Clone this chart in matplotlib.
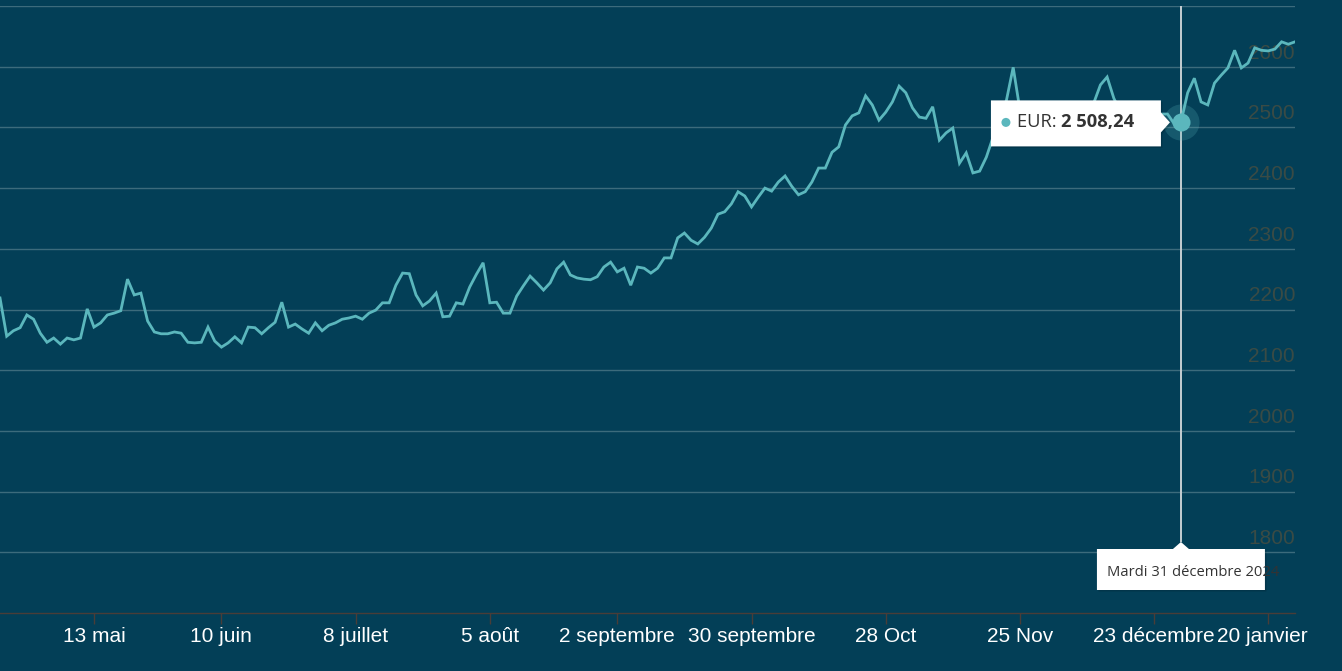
import matplotlib
matplotlib.use("Agg")
import matplotlib.pyplot as plt
from matplotlib.patches import Polygon, Ellipse
import matplotlib.transforms as mtransforms
import numpy as np
import pandas as pd

# ---------------- data ----------------
last_date = "2025-01-24"
holidays = ["2024-05-06", "2024-05-27", "2024-08-26",
            "2024-12-25", "2024-12-26", "2025-01-01"]

eur_price = [
    2219, 2156, 2165, 2170, 2191, 2184, 2161, 2146, 2153, 2143,
    2153, 2150, 2153, 2201, 2171, 2178, 2191, 2194, 2198, 2250,
    2224, 2227, 2181, 2163, 2160, 2160, 2163, 2161, 2146, 2145,
    2146, 2171, 2148, 2138, 2145, 2155, 2145, 2171, 2170, 2160,
    2170, 2179, 2212, 2171, 2176, 2168, 2161, 2178, 2165, 2174,
    2178, 2184, 2186, 2189, 2184, 2194, 2199, 2211, 2211, 2240,
    2260, 2259, 2224, 2206, 2214, 2227, 2188, 2189,
    2211, 2209, 2237, 2258, 2277, 2211, 2212, 2194, 2194, 2222,
    2239, 2255, 2244, 2232, 2244, 2267, 2278, 2257, 2252, 2250,
    2249, 2254, 2270, 2278, 2262, 2268, 2240, 2270, 2268, 2260,
    2268, 2285, 2285, 2318, 2326, 2314, 2308, 2319, 2334, 2357,
    2361, 2374, 2394, 2387, 2369, 2385, 2400, 2395, 2410, 2420,
    2403, 2389, 2394, 2410, 2433, 2433, 2459, 2468, 2504, 2519,
    2524, 2552, 2537, 2512, 2525, 2542, 2568,
    2557, 2532, 2517, 2515, 2534, 2479, 2491, 2499, 2441, 2458,
    2425, 2428, 2451, 2484, 2515, 2545, 2599, 2529,
    2512, 2495, 2505, 2520, 2498, 2510, 2525, 2515, 2530, 2522, 2540,
    2570, 2583, 2548,
    2525, 2505, 2515, 2500, 2520, 2510, 2522,
    2522, 2506, 2508.24, 2557, 2581, 2542, 2537, 2573, 2586, 2598,
    2627, 2598, 2606, 2631, 2627, 2626, 2629, 2641, 2637, 2641,
]

tick_dates = ["2024-05-13", "2024-06-10", "2024-07-08", "2024-08-05",
              "2024-09-02", "2024-09-30", "2024-10-28", "2024-11-25",
              "2024-12-23", "2025-01-20"]
tick_labels = ["13 mai", "10 juin", "8 juillet", "5 août", "2 septembre",
               "30 septembre", "28 Oct", "25 Nov", "23 décembre", "20 janvier"]

y_ticks = [1800, 1900, 2000, 2100, 2200, 2300, 2400, 2500, 2600, 2700]
y_min, y_max = 1700, 2700

hover_date = "2024-12-31"
hover_text_date = "Mardi 31 décembre 2024"
hover_series = "EUR"
hover_value_text = "2 508,24"

# ---------------- derived ----------------
bday = pd.offsets.CustomBusinessDay(holidays=holidays)
dates = pd.date_range(end=last_date, periods=len(eur_price), freq=bday)
idx = {d.strftime("%Y-%m-%d"): i for i, d in enumerate(dates)}
x = np.arange(len(eur_price))
tick_pos = [idx[d] for d in tick_dates]
hover_i = idx[hover_date]
hover_v = eur_price[hover_i]

# ---------------- style ----------------
BG = "#033f57"
GRID = "#3c6b7c"
LINE = "#5bb7bd"
AXIS = "#4a3d38"
YLAB = "#3a4b45"

W, H = 1342, 671
fig = plt.figure(figsize=(W / 100, H / 100), dpi=100, facecolor=BG)
ax = fig.add_axes([0, 1 - 613 / H, 1295 / W, (613 - 6) / H])
ax.set_facecolor(BG)
ax.set_xlim(0, len(eur_price) - 1)
ax.set_ylim(y_min, y_max)

for s in ["left", "right", "top"]:
    ax.spines[s].set_visible(False)
ax.spines["bottom"].set_color(AXIS)
ax.spines["bottom"].set_linewidth(1.0)

# grid lines
for yv in y_ticks:
    ax.axhline(yv, color=GRID, lw=1.0, zorder=1)

# y labels (drawn under the line)
ax.set_yticks([])
for yv in y_ticks[:-1]:
    ax.annotate(str(yv), xy=(1, yv), xycoords=("axes fraction", "data"),
                xytext=(0, 3), textcoords="offset points",
                ha="right", va="bottom", fontsize=15, color=YLAB,
                family="Liberation Sans", zorder=1.5, annotation_clip=False)

# x ticks
ax.set_xticks(tick_pos)
ax.set_xticklabels(tick_labels, fontsize=15, color="white", family="Liberation Sans")
ax.tick_params(axis="x", length=8, width=1, color=AXIS, pad=2)
# last label nudged left as in the source rendering
last_lab = ax.get_xticklabels()[-1]
last_lab.set_transform(last_lab.get_transform() +
                       mtransforms.ScaledTranslation(-6 / 100, 0, fig.dpi_scale_trans))

# crosshair
cross_bottom = y_min + (y_max - y_min) * (613 - 542) / (613 - 6)
ax.vlines(hover_i, cross_bottom, y_max, color="#c5ced2", lw=1.4, zorder=2)

# series line
ax.plot(x, eur_price, color=LINE, lw=2.0, zorder=3, solid_joinstyle="miter")

# hover marker
ax.scatter([hover_i], [hover_v], s=26 ** 2, color=LINE, alpha=0.22, zorder=4, linewidths=0)
ax.scatter([hover_i], [hover_v], s=13 ** 2, color=LINE, zorder=5, linewidths=0)

# tooltips in pixel space anchored on the hovered point
fig.canvas.draw()
px, py = ax.transData.transform((hover_i, hover_v))


def fig_pts(pts):
    return [(a / W, b / H) for a, b in pts]


# value tooltip (left of point, arrow pointing right)
l, r, t, b = px - 190, px - 20, py + 22, py - 24
tip = [(l, b), (r, b), (r, py - 10), (px - 11, py), (r, py + 10), (r, t), (l, t)]
fig.patches.append(Polygon(fig_pts([(a + 1.5, c - 1.5) for a, c in tip]), closed=True,
                           transform=fig.transFigure, facecolor="black", alpha=0.15,
                           edgecolor="none", zorder=9))
fig.patches.append(Polygon(fig_pts(tip), closed=True, transform=fig.transFigure,
                           facecolor="white", edgecolor="none", zorder=10))
fig.patches.append(Ellipse(((l + 15) / W, py / H), width=9 / W, height=9 / H,
                           transform=fig.transFigure, facecolor=LINE,
                           edgecolor="none", zorder=11))
t1 = fig.text((l + 26) / W, py / H, hover_series + ": ", fontsize=13.2, color="#333333",
              family="Open Sans", va="center", ha="left", zorder=12)
fig.canvas.draw()
bb = t1.get_window_extent()
fig.text(bb.x1 / W, py / H, hover_value_text, fontsize=13.2, color="#333333",
         family="Open Sans", weight="bold", va="center", ha="left", zorder=12)

# date tooltip (below, arrow pointing up)
qx, qy = ax.transData.transform((hover_i, cross_bottom))
l2, r2, t2, b2 = qx - 84, qx + 84, qy - 7, qy - 48
tip2 = [(l2, b2), (r2, b2), (r2, t2), (qx + 8, t2), (qx, qy), (qx - 8, t2), (l2, t2)]
fig.patches.append(Polygon(fig_pts([(a + 1.5, c - 1.5) for a, c in tip2]), closed=True,
                           transform=fig.transFigure, facecolor="black", alpha=0.15,
                           edgecolor="none", zorder=9))
fig.patches.append(Polygon(fig_pts(tip2), closed=True, transform=fig.transFigure,
                           facecolor="white", edgecolor="none", zorder=10))
fig.text((l2 + 10) / W, (b2 + 17) / H, hover_text_date, fontsize=10.6, color="#333333",
         family="Open Sans", va="center", ha="left", zorder=12)

fig.savefig("out.png", dpi=100, facecolor=BG)
